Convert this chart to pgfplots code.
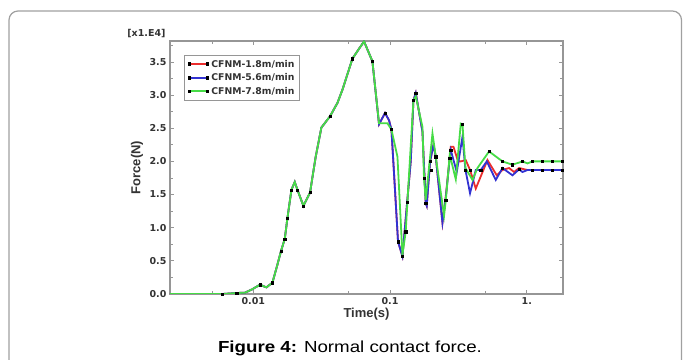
\documentclass[border=0pt]{standalone}
\usepackage{pgfplots}
\pgfplotsset{compat=1.18}
\usepackage{pgfplotstable}
\usepackage{fontspec}
\setmainfont{Liberation Sans}
\newfontfamily\tickfont{DejaVu Sans}
\newfontfamily\capfont[FakeStretch=1.17]{Liberation Sans}
\definecolor{axisgray}{RGB}{150,150,150}
\definecolor{framegray}{RGB}{160,160,160}
\definecolor{cred}{RGB}{235,45,45}
\definecolor{cblue}{RGB}{50,50,210}
\definecolor{cgreen}{RGB}{70,220,70}

\pgfplotstableread{
x y
0.00246 0
0.005 0
0.00594 0
0.0068 0.008
0.00757 0.015
0.0087 0.02
0.0098 0.07
0.01119 0.14
0.01247 0.10
0.0138 0.17
0.0150 0.44
0.01596 0.65
0.01699 0.83
0.01776 1.14
0.01901 1.57
0.0201 1.69
0.02104 1.57
0.02325 1.33
0.0260 1.53
0.0286 2.07
0.03148 2.51
0.0364 2.68
0.04121 2.88
0.04487 3.08
0.05309 3.55
0.06453 3.81
0.07431 3.51
0.0831 2.56
0.0919 2.73
0.0983 2.62
0.1024 2.48
0.1144 0.79
0.1232 0.57
0.1417 2.0
0.1483 2.92
0.1542 3.03
0.1726 2.45
0.1824 1.37
0.1855 1.33
0.1963 2.0
0.2078 2.25
0.2160 2.07
0.2417 1.075
0.2556 1.47
0.2780 2.22
0.2910 2.22
0.3144 2.0
0.3291 2.0
0.3579 2.02
0.3847 1.87
0.4235 1.59
0.5158 2.02
0.6033 1.79
0.6641 1.87
0.7422 1.90
0.8075 1.84
0.8784 1.90
1.012 1.87
1.84 1.87
}\redtable

\pgfplotstableread{
x y
0.00246 0
0.005 0
0.00594 0
0.0068 0.008
0.00757 0.015
0.0087 0.02
0.0098 0.07
0.01119 0.14
0.01247 0.10
0.0138 0.17
0.0150 0.44
0.01596 0.65
0.01699 0.83
0.01776 1.14
0.01901 1.57
0.0201 1.69
0.02104 1.57
0.02325 1.33
0.0260 1.53
0.0286 2.07
0.03148 2.51
0.0364 2.68
0.04121 2.88
0.04487 3.08
0.05309 3.55
0.06453 3.81
0.07431 3.51
0.0831 2.56
0.0919 2.73
0.0983 2.62
0.1024 2.48
0.1144 0.79
0.1232 0.57
0.1417 2.0
0.1483 2.92
0.1542 3.03
0.1726 2.45
0.1824 1.37
0.1855 1.33
0.1963 2.0
0.2078 2.25
0.2160 2.07
0.2417 1.075
0.2556 1.45
0.2733 2.05
0.2780 2.17
0.3076 1.84
0.3386 2.37
0.3561 1.87
0.3847 1.52
0.4235 1.87
0.4608 1.87
0.5097 2.0
0.5931 1.72
0.6641 1.9
0.7861 1.79
0.8784 1.88
0.93 1.84
1.012 1.87
1.84 1.87
}\bluetable

\pgfplotstableread{
x y
0.00246 0
0.005 0
0.00594 0
0.0068 0.008
0.00757 0.015
0.0087 0.02
0.0098 0.07
0.01119 0.14
0.01247 0.10
0.0138 0.17
0.0150 0.44
0.01596 0.65
0.01699 0.83
0.01776 1.14
0.01901 1.57
0.0201 1.69
0.02104 1.57
0.02325 1.33
0.0260 1.53
0.0286 2.07
0.03148 2.51
0.0364 2.68
0.04121 2.88
0.04487 3.08
0.05309 3.55
0.06453 3.81
0.07431 3.51
0.0831 2.575
0.0957 2.575
0.1024 2.48
0.1133 2.07
0.1232 0.59
0.1302 0.94
0.1340 1.39
0.1483 2.92
0.1542 2.98
0.1726 2.52
0.1772 1.745
0.1824 1.42
0.2043 2.42
0.2160 2.07
0.2483 1.18
0.2556 1.41
0.2733 2.10
0.3025 1.73
0.3291 2.57
0.3386 2.56
0.3561 1.90
0.4007 1.72
0.4359 1.90
0.5299 2.15
0.6641 2.0
0.7861 1.95
0.9302 2.0
1.012 1.97
1.101 2.0
1.84 2.0
}\greentable

\pgfplotstableread{
x y
0.00594 0
0.00757 0.015
0.01119 0.14
0.0138 0.17
0.01596 0.65
0.01699 0.83
0.01776 1.14
0.01901 1.57
0.02104 1.57
0.02325 1.33
0.0260 1.53
0.0364 2.68
0.05309 3.55
0.07431 3.51
0.0919 2.73
0.1024 2.48
0.1144 0.79
0.1232 0.57
0.1302 0.94
0.1340 1.39
0.1483 2.92
0.1542 3.03
0.1772 1.745
0.1824 1.37
0.1963 2.0
0.2009 1.87
0.2160 2.07
0.2556 1.41
0.2733 2.05
0.2780 2.17
0.3386 2.56
0.3561 1.87
0.3847 1.87
0.4608 1.87
0.5299 2.15
0.6641 2.0
0.6641 1.9
0.7861 1.95
0.8784 1.88
0.9302 2.0
1.101 2.0
1.101 1.87
1.303 2.0
1.303 1.87
1.542 2.0
1.542 1.87
1.825 2.0
1.825 1.87
}\marktable

\begin{document}
\begin{tikzpicture}
\useasboundingbox (0,0) rectangle (683pt,359pt);
\begin{scope}
\clip (0,0) rectangle (683pt,359pt);
\draw[framegray, line width=1.2pt, rounded corners=9pt] (9pt,-30pt) rectangle (681.5pt,348pt);
\end{scope}
\begin{axis}[
  name=ax,
  at={(170pt,65pt)}, anchor=south west,
  scale only axis, width=393pt, height=253pt,
  xmode=log, log basis x=10,
  xmin=0.00246, xmax=1.84, ymin=0, ymax=3.816,
  axis line style={draw=axisgray, line width=1.3pt},
  every tick/.style={draw=axisgray, line width=0.8pt},
  major tick length=4pt, minor tick length=3pt,
  xtick={0.01,0.1,1}, xticklabels={0.01,0.1,1.},
  minor xtick={0.005,0.05,0.5},
  ytick={0,0.5,1,1.5,2,2.5,3,3.5},
  yticklabels={0.0,0.5,1.0,1.5,2.0,2.5,3.0,3.5},
  minor ytick={0.25,0.75,1.25,1.75,2.25,2.75,3.25,3.75},
  ticklabel style={font=\tickfont\bfseries\fontsize{9.5}{11}\selectfont, text=black!80},
  xlabel={Time(s)}, ylabel={Force(N)},
  label style={font=\bfseries\fontsize{13}{15}\selectfont, text=black!80},
  xlabel style={at={(axis description cs:0.5,-0.079)}, anchor=center},
  ylabel style={at={(axis description cs:-0.084,0.5)}, anchor=center, rotate=0},
  legend style={at={(axis description cs:0.0364,0.9447)}, anchor=north west,
    draw=axisgray, line width=1pt, fill=white,
    font=\tickfont\bfseries\fontsize{9.3}{10}\selectfont,
    inner xsep=3pt, inner ysep=2.5pt, row sep=1pt, text=black!80},
  legend cell align=left,
]
\addplot[color=cred, line width=1.8pt, no marks,
  legend image code/.code={%
    \draw[cred, line width=2.2pt] (0pt,0pt) -- (18pt,0pt);
    \fill[black] (-0.9pt,-0.9pt) rectangle (0.9pt,0.9pt);
    \fill[black] (17.1pt,-0.9pt) rectangle (18.9pt,0.9pt);}] table[x=x,y=y] {\redtable};
\addlegendentry{CFNM-1.8m/min}
\addplot[color=cblue, line width=1.8pt, no marks,
  legend image code/.code={%
    \draw[cblue, line width=2.2pt] (0pt,0pt) -- (18pt,0pt);
    \fill[black] (-0.9pt,-0.9pt) rectangle (0.9pt,0.9pt);
    \fill[black] (17.1pt,-0.9pt) rectangle (18.9pt,0.9pt);}] table[x=x,y=y] {\bluetable};
\addlegendentry{CFNM-5.6m/min}
\addplot[color=cgreen, line width=1.8pt, no marks,
  legend image code/.code={%
    \draw[cgreen, line width=2.2pt] (0pt,0pt) -- (18pt,0pt);
    \fill[black] (-0.9pt,-0.9pt) rectangle (0.9pt,0.9pt);
    \fill[black] (17.1pt,-0.9pt) rectangle (18.9pt,0.9pt);}] table[x=x,y=y] {\greentable};
\addlegendentry{CFNM-7.8m/min}
\addplot[only marks, mark=square*, mark size=1.1pt, black, forget plot] table[x=x,y=y] {\marktable};
\end{axis}
\node[anchor=east, font=\tickfont\bfseries\fontsize{9.5}{11}\selectfont, text=black!80] at ([xshift=-1pt,yshift=7pt]ax.north west) {[x1.E4]};
\node[anchor=base] at (350pt,6pt) {\capfont\fontsize{16}{19}\selectfont\textbf{Figure 4:} Normal contact force.};
\end{tikzpicture}
\end{document}
